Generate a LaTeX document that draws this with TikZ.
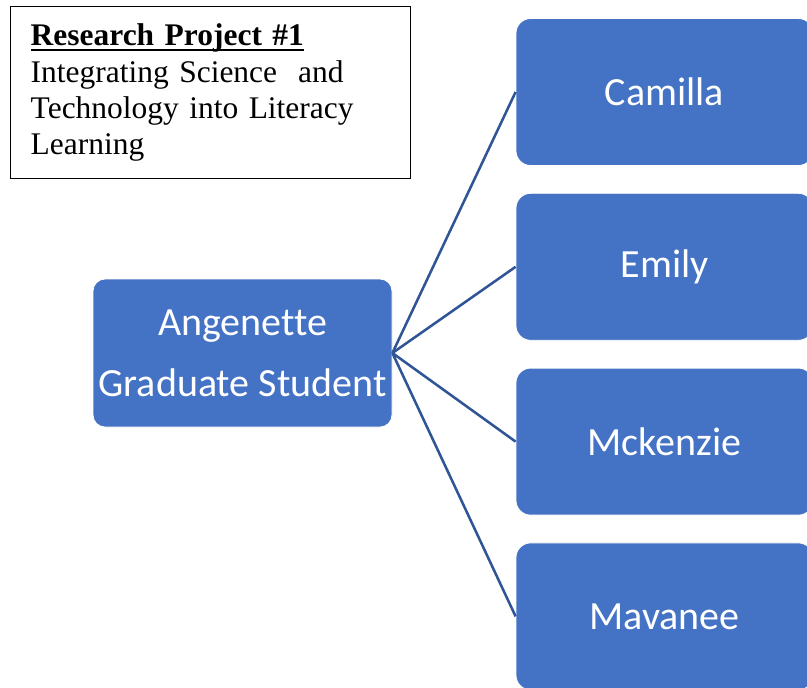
\documentclass[tikz,border=0pt]{standalone}
\usepackage{fontspec}
\setmainfont{Liberation Serif}
\newfontfamily\smartfont[Ligatures=NoCommon]{Carlito}
\usetikzlibrary{positioning}
\definecolor{boxBlue}{HTML}{4472C4}
\definecolor{linkBlue}{HTML}{2F5597}
% thick underline for the heading
\newsavebox{\headbox}
\newcommand{\headul}[1]{\sbox{\headbox}{#1}%
    \rlap{\raisebox{-4pt}{\rule{\wd\headbox}{1.5pt}}}\usebox{\headbox}}
\tikzset{
    titlecard/.style={draw=black,line width=1.1pt,fill=white,anchor=north west,
        minimum width=300pt,minimum height=129pt,inner xsep=15pt,
        text width=270pt,align=left,
        font=\fontsize{23.6}{27.3}\selectfont},
    rootbox/.style={draw=white,line width=0.6pt,fill=boxBlue,rounded corners=9pt,
        minimum width=224.25pt,minimum height=111pt,align=center,text=white,
        font=\smartfont\fontsize{30}{45.75}\selectfont},
    namebox/.style={draw=white,line width=0.6pt,fill=boxBlue,rounded corners=11pt,
        minimum width=222.75pt,minimum height=110.25pt,align=center,text=white,
        font=\smartfont\fontsize{30}{36}\selectfont},
    link/.style={draw=linkBlue,line width=1.9pt}
}

\begin{document}
\begin{tikzpicture}[x=0.75pt,y=-0.75pt,node distance=20.25pt]
    \fill[white] (0,0) rectangle (807,687);
    \useasboundingbox (0,0) rectangle (807,687);

    % project heading
    \node[titlecard] (title) at (10,6)
        {\headul{\textbf{Research Project \#1}}\\
         Integrating Science\ \ and\\
         Technology into Literacy\\
         Learning};

    % student and team members
    \node[rootbox] (grad) at (242.5,353) {Angenette\\Graduate Student};
    \node[namebox] (camilla) at (664.5,92) {Camilla};
    \node[namebox] (emily) [below=of camilla] {Emily};
    \node[namebox] (mckenzie) [below=of emily] {Mckenzie};
    \node[namebox] (mavanee) [below=of mckenzie] {Mavanee};

    \foreach \member in {camilla,emily,mckenzie,mavanee}
        \draw[link] (grad.east) -- (\member.west);
\end{tikzpicture}
\end{document}
